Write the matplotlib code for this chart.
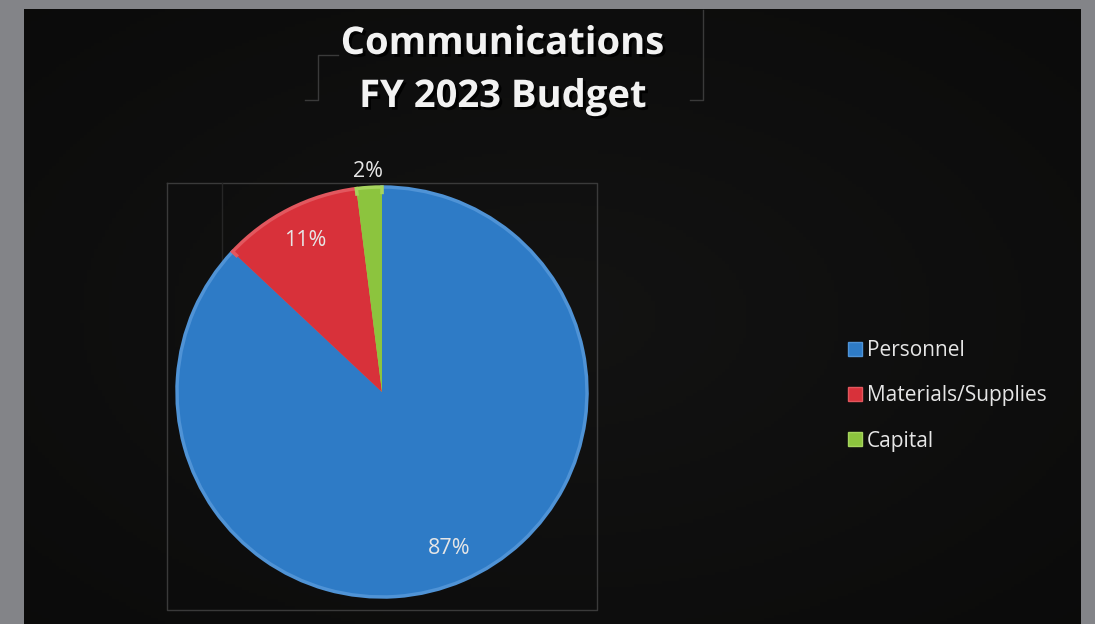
import numpy as np
import matplotlib
matplotlib.use("Agg")
import matplotlib.pyplot as plt
import matplotlib.patheffects as pe
from matplotlib.patches import Rectangle
from matplotlib.lines import Line2D

# Data
categories = ["Personnel", "Materials/Supplies", "Capital"]
shares = [87, 11, 2]
colors = ["#2E7BC6", "#D8313A", "#8CC43E"]
edge_colors = ["#4F93D6", "#E2575E", "#A6D45E"]
title_lines = ["Communications", "FY 2023 Budget"]

W, H = 1095, 624
fig = plt.figure(figsize=(W / 100, H / 100), dpi=100)
fig.patch.set_facecolor("#838488")

def fx(px):
    return px / W

def fy(py):
    return 1 - py / H

# dark panel with subtle gradient
bg = fig.add_axes([fx(24), 0, fx(1081) - fx(24), fy(9)])
bg.set_zorder(-10)
bg.set_axis_off()
yy, xx = np.mgrid[0:1:200j, 0:1:300j]
grad = 0.075 - 0.045 * np.hypot(xx - 0.5, yy - 0.5)
bg.imshow(np.dstack([grad, grad, grad * 0.98]), extent=(0, 1, 0, 1), aspect="auto",
          origin="lower", vmin=0, vmax=1)
bg.set_xlim(0, 1)
bg.set_ylim(0, 1)

# faint frame lines (artefacts in original)
line_col = "#3a3a3a"
def fline(xs, ys, col=line_col):
    fig.add_artist(Line2D([fx(x) for x in xs], [fy(y) for y in ys], color=col,
                          lw=1, transform=fig.transFigure, zorder=-5))

fline([167, 597, 597, 167, 167], [183, 183, 610, 610, 183])
fline([222, 222], [183, 405], "#262626")
fline([222, 400], [405, 405], "#262626")
fline([305, 318, 318, 338], [100, 100, 55, 55])
fline([690, 703, 703], [100, 100, 10])

# pie
ax = fig.add_axes([fx(177), fy(597), fx(587) - fx(177), (597 - 187) / H])
ax.set_zorder(0)
wedges, texts, autotexts = ax.pie(
    shares, colors=colors, startangle=90, counterclock=False,
    autopct=lambda p: f"{p:.0f}%", pctdistance=0.83,
    wedgeprops=dict(linewidth=2.5, joinstyle="miter"),
    textprops=dict(color="#E6E6E6", fontsize=15.5, family="Open Sans"))
for w, ec in zip(wedges, edge_colors):
    w.set_edgecolor(ec)
# inner overlay to create a bevel look
inner, _ = ax.pie(shares, colors=colors, startangle=90, counterclock=False,
                  radius=0.965, wedgeprops=dict(linewidth=0))
ax.set_xlim(-1, 1)
ax.set_ylim(-1, 1)
ax.set_aspect("equal")
for t in autotexts:
    t.set_zorder(5)
# move the small slice label outside
w = wedges[2]
ang = np.deg2rad((w.theta1 + w.theta2) / 2)
autotexts[2].set_position((1.08 * np.cos(ang), 1.08 * np.sin(ang)))

# title
for line, y in zip(title_lines, [44, 97]):
    fig.text(fx(503), fy(y), line, ha="center", va="center", color="#F2F2F2",
             fontsize=27.5, fontweight="bold", family="Open Sans",
             path_effects=[pe.withSimplePatchShadow(offset=(2, -2), shadow_rgbFace="black", alpha=0.9)])

# legend
for i, (cat, col) in enumerate(zip(categories, colors)):
    y = 349 + 45 * i
    fig.add_artist(Rectangle((fx(848), fy(y + 7)), fx(14), 14 / H, facecolor=col,
                             edgecolor=edge_colors[i], lw=1, transform=fig.transFigure))
    fig.text(fx(867), fy(y + 2), cat, ha="left", va="center", color="#E6E6E6",
             fontsize=15, family="Open Sans")

fig.savefig("out.png", dpi=100, facecolor=fig.get_facecolor())
